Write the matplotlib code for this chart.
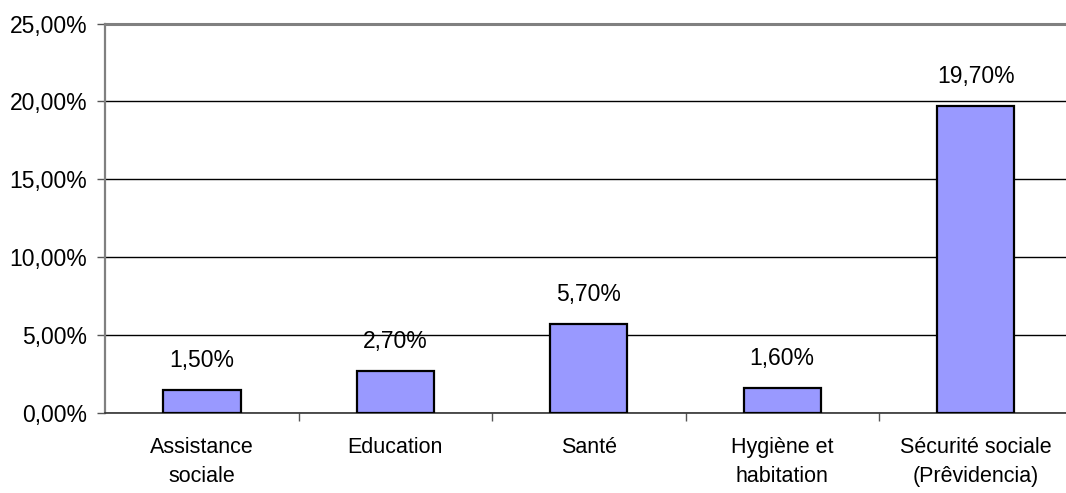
import matplotlib
matplotlib.use("Agg")
import matplotlib.pyplot as plt
from matplotlib.ticker import FuncFormatter, FixedLocator

plt.rcParams['font.family'] = ['Liberation Sans', 'DejaVu Sans']

categories = ["Assistance\nsociale", "Education", "Santé", "Hygiène et\nhabitation", "Sécurité sociale\n(Prêvidencia)"]
values = [1.5, 2.7, 5.7, 1.6, 19.7]
labels = ["1,50%", "2,70%", "5,70%", "1,60%", "19,70%"]
yticks = [0, 5, 10, 15, 20, 25]

W, H = 1066, 493
fig = plt.figure(figsize=(W / 100, H / 100), dpi=100)
left, right, top, bottom = 105.3, 1072.3, 23.5, 413
ax = fig.add_axes([left / W, (H - bottom) / H, (right - left) / W, (bottom - top) / H])

x = list(range(len(categories)))
ax.bar(x, values, width=0.4, color="#9999FF", edgecolor="black", linewidth=1.6, zorder=3)
for xi, v, lab in zip(x, values, labels):
    ax.annotate(lab, (xi, v), xytext=(0, 13), textcoords="offset points",
                ha="center", va="bottom", fontsize=16.5, color="black")

ax.set_xlim(-0.5, len(categories) - 0.5)
ax.set_ylim(0, 25)
ax.yaxis.set_major_locator(FixedLocator(yticks))
ax.yaxis.set_major_formatter(FuncFormatter(lambda v, p: f"{v:.2f}".replace(".", ",") + "%"))
ax.grid(axis="y", color="black", linewidth=1.0, zorder=0)

ax.set_xticks([i + 0.5 for i in range(len(categories) - 1)])
ax.set_xticklabels([])
ax.set_xticks(x, minor=True)
ax.set_xticklabels(categories, minor=True, fontsize=15.5, linespacing=1.55)
ax.tick_params(axis="x", which="minor", length=0, pad=17)
ax.tick_params(axis="x", which="major", length=6, width=1, color="#555555", direction="out")
ax.tick_params(axis="y", length=6, width=1, color="#555555", direction="out", labelsize=16.5, pad=7)

for s in ["top", "right"]:
    ax.spines[s].set_color("#808080")
    ax.spines[s].set_linewidth(2.2)
ax.spines["left"].set_color("#808080")
ax.spines["left"].set_linewidth(1.6)
ax.spines["bottom"].set_color("#333333")
ax.spines["bottom"].set_linewidth(1.2)

fig.savefig("out.png", dpi=100)
